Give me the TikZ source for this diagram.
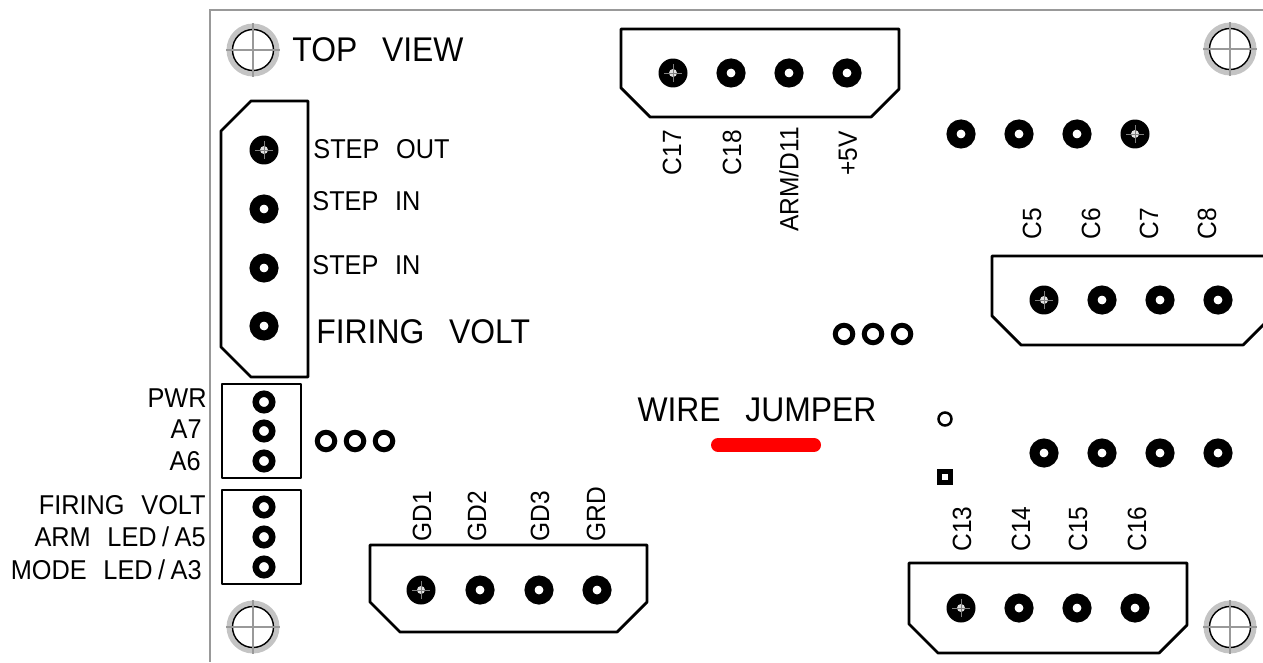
\documentclass[tikz,border=0pt]{standalone}
\usepackage{fontspec}
\setmainfont[FakeStretch=0.93, WordSpace=2.8]{Liberation Sans}
\definecolor{framegrey}{HTML}{999999}
\definecolor{ringgrey}{HTML}{C4C4C4}
\definecolor{jumperred}{HTML}{FF0000}
\newcommand{\smalllabelfont}{\fontsize{15.5}{15.5}\selectfont\spaceskip 9.5pt\relax}
\tikzset{
	bigpad/.style={circle, draw=black, line width=0.2cm, fill=white, inner sep=0, minimum size=0.38cm},
	crosspad/.style={circle, fill=black, inner sep=0, minimum size=0.58cm, path picture={
		\fill [black!12] (path picture bounding box.center) circle (0.08cm);
		\draw [gray, line width=0.5pt] ([xshift=-0.18cm]path picture bounding box.center) -- ([xshift=0.18cm]path picture bounding box.center);
		\draw [gray, line width=0.5pt] ([yshift=-0.18cm]path picture bounding box.center) -- ([yshift=0.18cm]path picture bounding box.center);
	}},
	midpad/.style={circle, draw=black, line width=0.13cm, fill=white, inner sep=0, minimum size=0.33cm},
	ringpad/.style={circle, draw=black, line width=0.1cm, fill=white, inner sep=0, minimum size=0.35cm},
	mountring/.style={circle, fill=ringgrey, inner sep=0, minimum size=1.06cm},
	mounthole/.style={circle, draw=black, thick, fill=white, inner sep=0, minimum size=0.82cm},
	mountcross/.style={framegrey, line width=0.7pt},
	outline/.style={ultra thick, line join=round},
	smalltext/.style={inner sep=0, font=\smalllabelfont},
	bigtext/.style={inner sep=0, font=\fontsize{19.5}{19.5}\selectfont},
	pintext/.style={inner sep=0, font=\fontsize{15}{15}\selectfont, rotate=90},
}

\begin{document}
\begin{tikzpicture}[x=0.02cm, y=-0.02cm]
	\useasboundingbox (0, 0) rectangle (1263, 662);

	% board edge
	\draw [framegrey, line width=1.1pt] (1263, 10) -- (210, 10) -- (210, 662);

	% mounting holes
	\node [mountring] (mtl) at (253, 50) {};
	\node [mounthole] (mtlh) at (mtl) {};
	\draw [mountcross] (mtl.north) -- (mtl.south);
	\draw [mountcross] (mtl.west) -- (mtl.east);
	\node [mountring] (mtr) at (1230, 49) {};
	\node [mounthole] (mtrh) at (mtr) {};
	\draw [mountcross] (mtr.north) -- (mtr.south);
	\draw [mountcross] (mtr.west) -- (mtr.east);
	\node [mountring] (mbl) at (253, 627) {};
	\node [mounthole] (mblh) at (mbl) {};
	\draw [mountcross] (mbl.north) -- (mbl.south);
	\draw [mountcross] (mbl.west) -- (mbl.east);
	\node [mountring] (mbr) at (1230, 627) {};
	\node [mounthole] (mbrh) at (mbr) {};
	\draw [mountcross] (mbr.north) -- (mbr.south);
	\draw [mountcross] (mbr.west) -- (mbr.east);

	\node [bigtext, anchor=base west] (topview) at (292, 62) {TOP VIEW};

	% step connector
	\draw [outline] (221, 131) -- (251, 101) -- (308, 101) -- (308, 377) -- (251, 377) -- (221, 347) -- cycle;
	\node [crosspad] (stepa) at (264, 150) {};
	\node [bigpad] (stepb) at (264, 209) {};
	\node [bigpad] (stepc) at (264, 268) {};
	\node [bigpad] (stepd) at (264, 326) {};
	\node [smalltext, anchor=base west] (stepouttext) at (313, 159) {STEP OUT};
	\node [smalltext, anchor=base west] (stepintexta) at (312, 211) {STEP IN};
	\node [smalltext, anchor=base west] (stepintextb) at (312, 274) {STEP IN};
	\node [bigtext, anchor=base west] (firingtext) at (316, 343) {FIRING VOLT};

	% three pin headers
	\draw [outline] (222, 384) rectangle (301, 478);
	\node [midpad] (pwrpad) at (264, 402) {};
	\node [midpad] (asevenpad) at (264, 431) {};
	\node [midpad] (asixpad) at (264, 461) {};
	\node [smalltext, anchor=base east] (pwrtext) at (207, 407) {PWR};
	\node [smalltext, anchor=base east] (aseventext) at (202, 438) {A7};
	\node [smalltext, anchor=base east] (asixtext) at (201, 470) {A6};

	\draw [outline] (222, 490) rectangle (301, 584);
	\node [midpad] (voltpad) at (264, 507) {};
	\node [midpad] (armpad) at (264, 537) {};
	\node [midpad] (modepad) at (264, 567) {};
	\node [smalltext, anchor=base east] (volttext) at (206, 514) {FIRING VOLT};
	\node [smalltext, anchor=base east] (armtext) at (206, 546) {ARM LED\kern.2em/\kern.2em A5};
	\node [smalltext, anchor=base east] (modetext) at (202, 579) {MODE LED\kern.2em/\kern.2em A3};

	\node [ringpad] (ringa) at (326, 441) {};
	\node [ringpad] (ringb) at (355, 441) {};
	\node [ringpad] (ringc) at (384, 441) {};

	% gate connector
	\draw [outline] (370, 545) -- (647, 545) -- (647, 602) -- (617, 632) -- (400, 632) -- (370, 602) -- cycle;
	\node [crosspad] (gda) at (421, 590) {};
	\node [bigpad] (gdb) at (480, 590) {};
	\node [bigpad] (gdc) at (539, 590) {};
	\node [bigpad] (gdd) at (597, 590) {};
	\node [pintext, anchor=west] (gdatext) at (422, 542) {GD1};
	\node [pintext, anchor=west] (gdbtext) at (477, 542) {GD2};
	\node [pintext, anchor=west] (gdctext) at (540, 542) {GD3};
	\node [pintext, anchor=west] (gddtext) at (596, 542) {GRD};

	% top connector
	\draw [outline] (621, 29) -- (899, 29) -- (899, 89) -- (871, 117) -- (650, 117) -- (621, 88) -- cycle;
	\node [crosspad] (cseventeen) at (673, 73) {};
	\node [bigpad] (ceighteen) at (731, 73) {};
	\node [bigpad] (armpin) at (789, 73) {};
	\node [bigpad] (fivepin) at (847, 73) {};
	\node [pintext, anchor=east] (cseventeentext) at (672, 130) {C17};
	\node [pintext, anchor=east] (ceighteentext) at (732, 130) {C18};
	\node [pintext, anchor=east] (armpintext) at (789, 127) {ARM/D11};
	\node [pintext, anchor=east] (fivepintext) at (848, 131) {+5V};

	\node [bigpad] (rowa) at (961, 134) {};
	\node [bigpad] (rowb) at (1019, 134) {};
	\node [bigpad] (rowc) at (1077, 134) {};
	\node [crosspad] (rowd) at (1135, 134) {};

	% right connector
	\draw [outline] (1270, 256) -- (992, 256) -- (992, 316) -- (1021, 345) -- (1243, 345) -- (1270, 318);
	\node [crosspad] (cfive) at (1044, 300) {};
	\node [bigpad] (csix) at (1102, 300) {};
	\node [bigpad] (cseven) at (1160, 300) {};
	\node [bigpad] (ceight) at (1218, 300) {};
	\node [pintext, anchor=west] (cfivetext) at (1032, 240) {C5};
	\node [pintext, anchor=west] (csixtext) at (1091, 240) {C6};
	\node [pintext, anchor=west] (cseventext) at (1149, 240) {C7};
	\node [pintext, anchor=west] (ceighttext) at (1207, 240) {C8};

	\node [ringpad] (ringd) at (844, 334) {};
	\node [ringpad] (ringe) at (873, 334) {};
	\node [ringpad] (ringf) at (902, 334) {};

	% jumper
	\node [bigtext, anchor=base] (jumpertext) at (757, 421) {WIRE JUMPER};
	\coordinate (jumpera) at (718, 445);
	\coordinate (jumperb) at (814, 445);
	\draw [jumperred, line width=0.28cm, line cap=round] (jumpera) -- (jumperb);

	\node [circle, draw=black, line width=0.05cm, fill=white, inner sep=0, minimum size=0.26cm] (smallhole) at (945, 419) {};
	\node [draw=black, line width=0.1cm, fill=white, inner sep=0, minimum size=0.22cm] (squarepad) at (945, 477) {};

	\node [bigpad] (rowe) at (1044, 453) {};
	\node [bigpad] (rowf) at (1102, 453) {};
	\node [bigpad] (rowg) at (1160, 453) {};
	\node [bigpad] (rowh) at (1218, 453) {};

	% lower connector
	\draw [outline] (909, 563) -- (1187, 563) -- (1187, 625) -- (1159, 653) -- (938, 653) -- (909, 624) -- cycle;
	\node [crosspad] (cthirteen) at (961, 608) {};
	\node [bigpad] (cfourteen) at (1019, 608) {};
	\node [bigpad] (cfifteen) at (1077, 608) {};
	\node [bigpad] (csixteen) at (1135, 608) {};
	\node [pintext, anchor=west] (cthirteentext) at (962, 552) {C13};
	\node [pintext, anchor=west] (cfourteentext) at (1021, 552) {C14};
	\node [pintext, anchor=west] (cfifteentext) at (1078, 552) {C15};
	\node [pintext, anchor=west] (csixteentext) at (1137, 552) {C16};
\end{tikzpicture}
\end{document}
